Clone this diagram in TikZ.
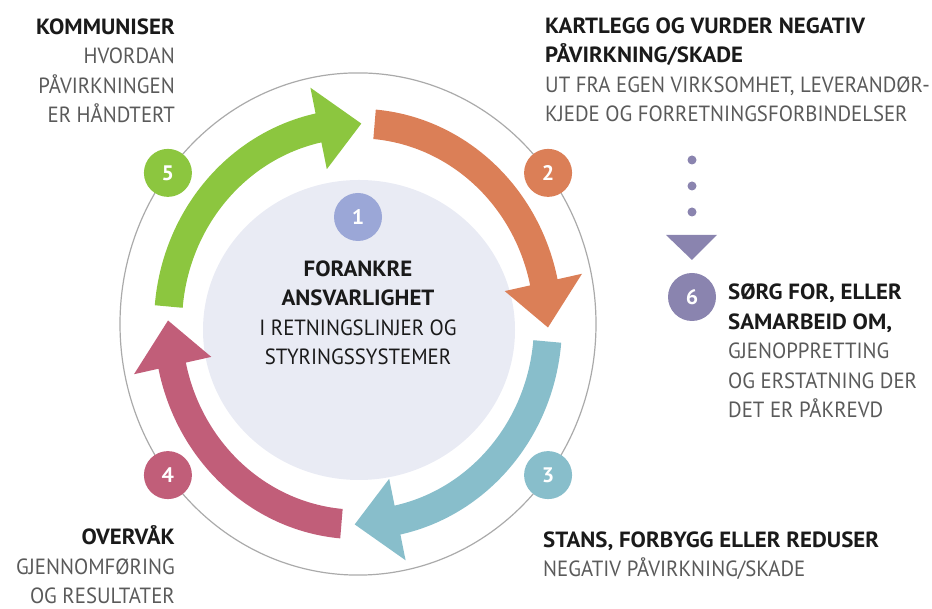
\documentclass[tikz,border=0pt]{standalone}
\usepackage{fontspec}
\setmainfont{PT Sans}[FakeStretch=0.945]
\newfontfamily\headfont{PT Sans}[FakeStretch=1.04]

\definecolor{stepgreen}{HTML}{8CC63F}
\definecolor{steporange}{HTML}{DB7F57}
\definecolor{stepblue}{HTML}{88BECB}
\definecolor{steppink}{HTML}{C15E79}
\definecolor{steppurple}{HTML}{8A84AF}
\definecolor{stepone}{HTML}{9BA7D7}
\definecolor{corefill}{HTML}{E9EBF4}
\definecolor{ringgrey}{HTML}{AAAAAA}
\definecolor{ink}{HTML}{1A1A1A}
\definecolor{softink}{HTML}{5A5A5A}

% one curved arrow of the cycle: tail angle, tip angle, colour
\newcommand{\cyclearrow}[3]{%
  \pgfmathsetmacro{\hb}{#2+13}
  \fill[#3] (#1:204) arc[start angle=#1, end angle=\hb, radius=204]
    -- (\hb:229) -- (#2:190) -- (\hb:150) -- (\hb:176)
    arc[start angle=\hb, end angle=#1, radius=176] -- cycle;}
\newcommand{\stephead}[1]{{\headfont\bfseries\color{ink}#1}}

\begin{document}
\begin{tikzpicture}[x=1pt, y=1pt,
    badge/.style={circle, fill=#1, minimum size=48pt, inner sep=0pt, text=white,
      font=\fontsize{21}{21}\selectfont\headfont\bfseries},
    steptext/.style={inner sep=0pt, text=softink, font=\fontsize{22}{29.5}\selectfont}]
    \useasboundingbox (0,0) rectangle (932,609);

    % Inner disc
    \fill[corefill] (359,279) ellipse [x radius=156, y radius=150];

    % Outer ring and the cycle arrows
    \begin{scope}[shift={(358,285)}, yscale=1.055]
      \draw[ringgrey, line width=1.2pt] (0,0) circle (238);
      \cyclearrow{175}{89}{stepgreen}
      \cyclearrow{85}{-1}{steporange}
      \cyclearrow{-5}{-91}{stepblue}
      \cyclearrow{-95}{-181}{steppink}
      \coordinate (P2) at (37:238);
      \coordinate (P3) at (-37:238);
      \coordinate (P4) at (-143:238);
      \coordinate (P5) at (143:238);
    \end{scope}

    % Numbered badges
    \node[badge=stepone] (one) at (358,392) {1};
    \node[badge=steporange] (two) at (P2) {2};
    \node[badge=stepblue] (three) at (P3) {3};
    \node[badge=steppink] (four) at (P4) {4};
    \node[badge=stepgreen] (five) at (P5) {5};
    \node[badge=steppurple] (six) at (692,312) {6};

    % Dotted pointer down to step 6
    \coordinate (dtop) at (692,449);
    \coordinate (dbot) at (692,396);
    \coordinate (ttip) at (692,349);
    \draw[steppurple, line width=9pt, line cap=round, dash pattern=on 0pt off 26pt] (dtop) -- (dbot);
    \fill[steppurple] (666,374) -- (717,374) -- (ttip) -- cycle;

    % Texts (base = last line)
    \node[steptext, anchor=base, align=center] (txtone) at (358,244)
      {\stephead{FORANKRE}\\\stephead{ANSVARLIGHET}\\\color{ink}I RETNINGSLINJER OG\\\color{ink}STYRINGSSYSTEMER};
    \node[steptext, anchor=base west, align=left] (txttwo) at (545,487)
      {\stephead{KARTLEGG OG VURDER NEGATIV}\\\stephead{PÅVIRKNING/SKADE}\\UT FRA EGEN VIRKSOMHET, LEVERANDØR-\\KJEDE OG FORRETNINGSFORBINDELSER};
    \node[steptext, anchor=base west, align=left] (txtthree) at (543,32)
      {\stephead{STANS, FORBYGG ELLER REDUSER}\\NEGATIV PÅVIRKNING/SKADE};
    \node[steptext, anchor=base east, align=right] (txtfour) at (175,5)
      {\stephead{OVERVÅK}\\GJENNOMFØRING\\OG RESULTATER};
    \node[steptext, anchor=base east, align=right] (txtfive) at (175,486)
      {\stephead{KOMMUNISER}\\HVORDAN\\PÅVIRKNINGEN\\ER HÅNDTERT};
    \node[steptext, anchor=base west, align=left] (txtsix) at (728,191)
      {\stephead{SØRG FOR, ELLER}\\\stephead{SAMARBEID OM,}\\GJENOPPRETTING\\OG ERSTATNING DER\\DET ER PÅKREVD};
\end{tikzpicture}
\end{document}
